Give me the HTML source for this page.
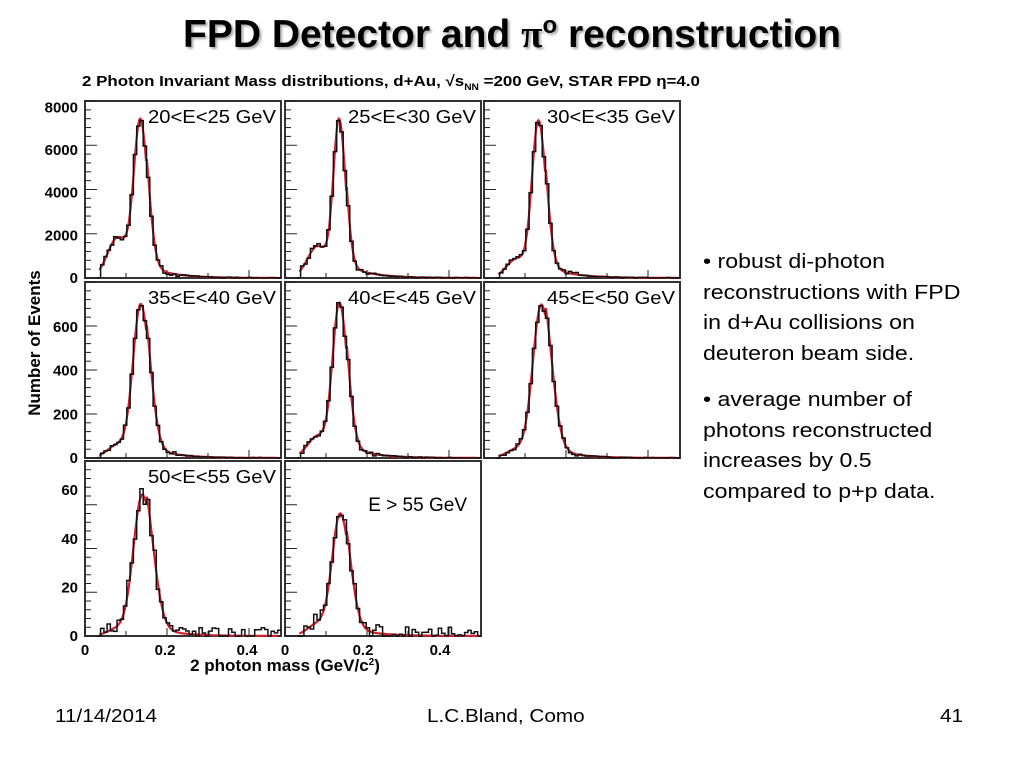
<!DOCTYPE html>
<html><head><meta charset="utf-8"><style>
body{margin:0;width:1024px;height:768px;background:#fff;position:relative;overflow:hidden;font-family:"Liberation Sans",sans-serif}
.t{position:absolute;white-space:nowrap}
#title{left:0;width:1024px;top:12px;text-align:center;font-weight:bold;font-size:39px;text-shadow:2px 2px 2px #aaa}
.r{font-size:20.5px;left:703px;line-height:30.5px;transform:scaleX(1.13);transform-origin:0 0}
.f{font-size:18px;top:706px;transform:scaleX(1.15);transform-origin:0 0}
</style></head><body>
<div class="t" id="title">FPD Detector and <span style="font-family:'Liberation Serif',serif">π</span><sup style="font-size:24px">o</sup> reconstruction</div>
<svg id="s" width="1024" height="768" style="position:absolute;left:0;top:0" font-family="Liberation Sans, sans-serif"></svg>
<div class="t r" style="top:247px">• robust di-photon<br>reconstructions with FPD<br>in d+Au collisions on<br>deuteron beam side.</div>
<div class="t r" style="top:385px">• average number of<br>photons reconstructed<br>increases by 0.5<br>compared to p+p data.</div>
<div class="t f" style="left:55px">11/14/2014</div>
<div class="t f" style="left:427px">L.C.Bland, Como</div>
<div class="t f" style="left:940px">41</div>
<script>
const s=document.getElementById('s');let h='';
h+='<text x="82" y="86" font-size="15" font-weight="bold" textLength="618" lengthAdjust="spacingAndGlyphs">2 Photon Invariant Mass distributions, d+Au, √s<tspan font-size="9" dy="4">NN</tspan><tspan dy="-4"> =200 GeV, STAR FPD η=4.0</tspan></text>';
h+='<text transform="translate(40,343) rotate(-90)" font-size="17" font-weight="bold" text-anchor="middle">Number of Events</text>';
h+='<text x="285" y="671" font-size="17" font-weight="bold" text-anchor="middle">2 photon mass (GeV/c<tspan font-size="10" dy="-6">2</tspan><tspan dy="6">)</tspan></text>';
const cols=[85,285,484],rows=[101,282,461],W=196;
const rowH=[177,176,175];
const ymax=[8300,805,72];
const labels=[["20<E<25 GeV",7300,0.135,0.016,1900],["25<E<30 GeV",7300,0.132,0.014,1500],["30<E<35 GeV",7300,0.133,0.016,900],
["35<E<40 GeV",700,0.136,0.019,60],["40<E<45 GeV",700,0.133,0.017,100],["45<E<50 GeV",700,0.14,0.021,40],
["50<E<55 GeV",58,0.14,0.022,3],["E > 55 GeV",50,0.135,0.02,5]];
const yt=[[0,2000,4000,6000,8000],[0,200,400,600],[0,20,40,60]];
function seed(n){return ()=>{n=(n*9301+49297)%233280;return n/233280;}}
labels.forEach((L,i)=>{
 const r=Math.floor(i/3),c=i%3,x0=cols[c],y0=rows[r],H=rowH[r],ym=ymax[r];
 const sx=v=>x0+v*410, sy=v=>y0+H-v/ym*H;
 h+=`<rect x="${x0}" y="${y0}" width="${W}" height="${H}" fill="#fff" stroke="#333" stroke-width="2"/>`;
 for(let k=0;k<5;k++){const xx=sx(k*0.1);h+=`<line x1="${xx}" y1="${y0+H}" x2="${xx}" y2="${y0+H-(k%2==0?8:5)}" stroke="#222"/>`}
 for(let k=0;k<=20;k++){const yy=y0+H-k*H/20;h+=`<line x1="${x0}" y1="${yy}" x2="${x0+(k%5==0?12:6)}" y2="${yy}" stroke="#222"/>`}
 if(c==0) yt[r].forEach(v=>h+=`<text x="${x0-7}" y="${sy(v)+5}" font-size="15" font-weight="bold" text-anchor="end">${v}</text>`);
 const [lab,A,m,sg,sh]=L; const rnd=seed(i*77+13);
 const f=v=>{if(v<0.035)return 0;let y=A*Math.exp(-((v-m)**2)/(2*sg*sg*(v>m?1.3:1)));
  y+=sh*Math.exp(-((v-0.08)**2)/(2*0.025**2));y+=A*0.08*Math.exp(-(v-0.15)/0.06)*(v>0.15?1:0);return y};
 let p='',q='',bw=0.008;
 for(let v=0.03;v<0.475;v+=bw){let y=f(v+bw/2);let noise=r==2?(rnd()-0.4)*6:(rnd()-0.5)*A*0.03;y=Math.max(0,y+noise*(y>A*0.02||r==2?1:0.2));
  y=Math.min(y,ym*0.99);p+=(p?'L':'M')+sx(v).toFixed(1)+','+sy(y).toFixed(1)+'L'+sx(v+bw).toFixed(1)+','+sy(y).toFixed(1);}
 for(let v=0.035;v<0.47;v+=0.002){q+=(q?'L':'M')+sx(v).toFixed(1)+','+sy(f(v)).toFixed(1)}
 h+=`<path d="${q}" fill="none" stroke="#d02030" stroke-width="2.2"/><path d="${p}" fill="none" stroke="#111" stroke-width="1.5"/>`;
 if(i==7) h+=`<text x="${x0+182}" y="${y0+50}" font-size="19" text-anchor="end">${lab.replace(/</g,'&lt;').replace(/>/g,'&gt;')}</text>`;
 else h+=`<text x="${x0+63}" y="${y0+22}" font-size="18" textLength="128" lengthAdjust="spacingAndGlyphs">${lab.replace(/</g,'&lt;')}</text>`;
});
[[0,85],[0.2,165],[0.4,247],[0,285],[0.2,363],[0.4,440]].forEach(a=>h+=`<text x="${a[1]}" y="655" font-size="15" font-weight="bold" text-anchor="middle">${a[0]}</text>`);
s.innerHTML=h;
</script>
</body></html>
